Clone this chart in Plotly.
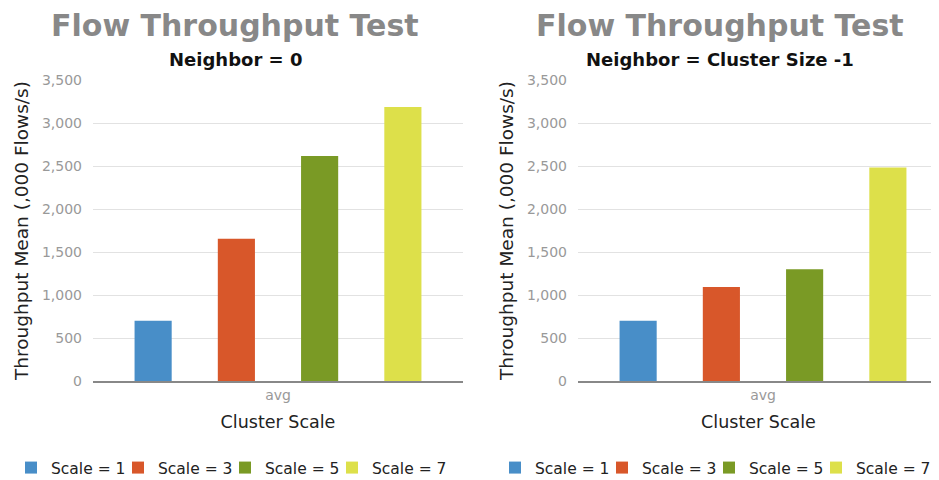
import plotly.graph_objects as go

categories = ["avg"]
series_names = ["Scale = 1", "Scale = 3", "Scale = 5", "Scale = 7"]
left_values = [702, 1655, 2615, 3185]
right_values = [702, 1092, 1298, 2482]
colors = ["#488ec8", "#d8572a", "#7a9a25", "#dde04a"]
main_title = "Flow Throughput Test"
left_subtitle = "Neighbor = 0"
right_subtitle = "Neighbor = Cluster Size -1"
y_title = "Throughput Mean (,000 Flows/s)"
x_title = "Cluster Scale"
y_ticks = [0, 500, 1000, 1500, 2000, 2500, 3000, 3500]

FONT = "DejaVu Sans"

# the page body has an 8px margin; work in page pixels and convert
OFF = 8
W, H = 939 - OFF, 480 - OFF
ml = 93 - OFF
mt = 80 - OFF
mb = H - (381 - OFF)
mr = 0
pw = W - ml - mr
ph = H - mt - mb

def px_x(p):
    return (p - OFF - ml) / pw

def px_y(p):
    return (H - mb - (p - OFF)) / ph

# legend entry widths: tighter for all but the last entry
entry_w = [62, 62, 62, 76]

fig = go.Figure()
for name, v, c, ew in zip(series_names, left_values, colors, entry_w):
    fig.add_trace(go.Bar(x=categories, y=[v], name=name, marker_color=c,
                         marker_line_width=0, xaxis="x", yaxis="y", legend="legend",
                         legendwidth=ew))
for name, v, c, ew in zip(series_names, right_values, colors, entry_w):
    fig.add_trace(go.Bar(x=categories, y=[v], name=name, marker_color=c,
                         marker_line_width=0, xaxis="x2", yaxis="y2", legend="legend2",
                         legendwidth=ew))

left_dom = [0, px_x(463)]
right_dom = [px_x(578), 1]

yaxis_common = dict(
    range=[0, 3500], tickvals=y_ticks, tickformat=",", showgrid=True,
    gridcolor="#e2e2e2", gridwidth=1, zeroline=False, showline=False,
    tickfont=dict(family=FONT, size=14, color="#999999"),
    ticklabelstandoff=10, automargin=False,
    title=dict(text=y_title, font=dict(family=FONT, size=18.5, color="#222222"), standoff=8),
)
xaxis_common = dict(
    showline=True, linecolor="#888888", linewidth=1.5, showgrid=False,
    tickfont=dict(family=FONT, size=14, color="#999999"), automargin=False,
    title=dict(text=x_title, font=dict(family=FONT, size=17.5, color="#222222"), standoff=14),
)

legend_common = dict(orientation="h", xref="container", yref="container",
                     xanchor="center", yanchor="middle", y=1 - (468 - OFF) / H,
                     font=dict(family=FONT, size=15.5, color="#222222"),
                     itemwidth=30, bgcolor="rgba(0,0,0,0)")

fig.update_layout(
    width=W, height=H,
    margin=dict(l=ml, r=mr, t=mt, b=mb, autoexpand=False),
    paper_bgcolor="white", plot_bgcolor="white",
    barmode="group", bargap=0.1, bargroupgap=0.554,
    font=dict(family=FONT),
    xaxis=dict(domain=left_dom, anchor="y", range=[-0.5, 0.5], **xaxis_common),
    yaxis=dict(domain=[0, 1], anchor="x", **yaxis_common),
    xaxis2=dict(domain=right_dom, anchor="y2", range=[-0.5, -0.5 + (939 - 578) / 370], **xaxis_common),
    yaxis2=dict(domain=[0, 1], anchor="x2", **yaxis_common),
    legend=dict(x=(232 - OFF) / W, **legend_common),
    legend2=dict(x=(716 - OFF) / W, **legend_common),
    showlegend=True,
)

for cx, sub in [(235, left_subtitle), (720, right_subtitle)]:
    fig.add_annotation(text="<b>" + main_title + "</b>", xref="paper", yref="paper",
                       x=px_x(cx), y=px_y(26), xanchor="center", yanchor="middle",
                       showarrow=False, font=dict(family=FONT, size=30, color="#888888"))
    fig.add_annotation(text="<b>" + sub + "</b>", xref="paper", yref="paper",
                       x=px_x(cx), y=px_y(59), xanchor="center", yanchor="middle",
                       showarrow=False, font=dict(family=FONT, size=18, color="#111111"))

fig.write_html("out.html")
